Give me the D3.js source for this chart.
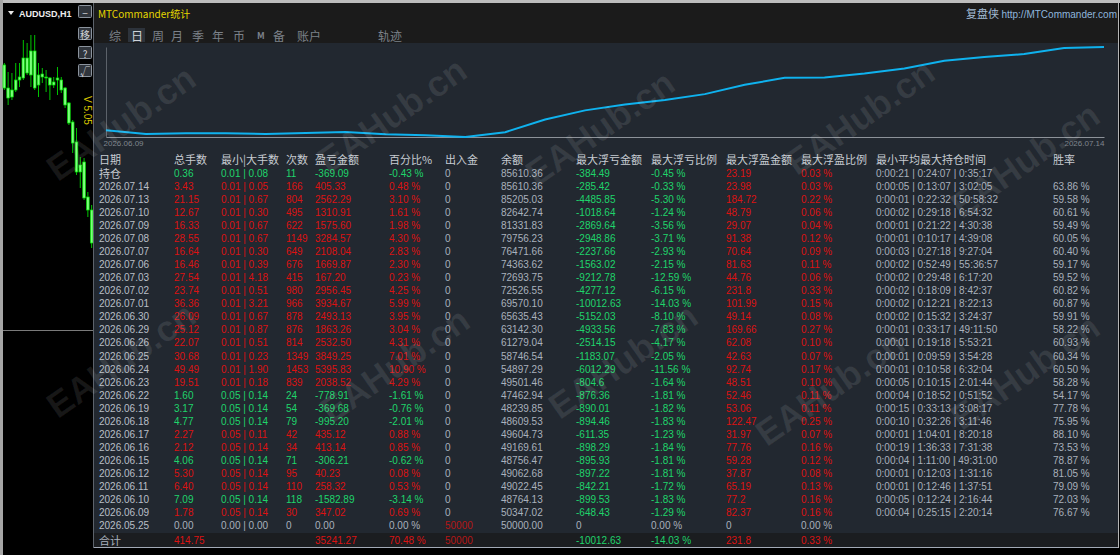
<!DOCTYPE html>
<html>
<head>
<meta charset="utf-8">
<script src="https://cdn.jsdelivr.net/npm/d3@7"></script>
<style>
body { margin: 0; background: #000; overflow: hidden; }
</style>
</head>
<body>
<div id="chart"></div>
<script>
// ---- table data, top row = open positions, then days (newest first) ----
var rowLabels = ["持仓", "2026.07.14", "2026.07.13", "2026.07.10", "2026.07.09", "2026.07.08", "2026.07.07",
  "2026.07.06", "2026.07.03", "2026.07.02", "2026.07.01", "2026.06.30", "2026.06.29", "2026.06.26",
  "2026.06.25", "2026.06.24", "2026.06.23", "2026.06.22", "2026.06.19", "2026.06.18", "2026.06.17",
  "2026.06.16", "2026.06.15", "2026.06.12", "2026.06.11", "2026.06.10", "2026.06.09", "2026.05.25"];
var lots = [0.36, 3.43, 21.15, 12.67, 16.33, 28.55, 16.64, 16.46, 27.54, 23.74, 36.36, 26.09, 25.12, 22.07,
  30.68, 49.49, 19.51, 1.60, 3.17, 4.77, 2.27, 2.12, 4.06, 5.30, 6.40, 7.09, 1.78, 0.00];
var minLot = [0.01, 0.01, 0.01, 0.01, 0.01, 0.01, 0.01, 0.01, 0.01, 0.01, 0.01, 0.01, 0.01, 0.01,
  0.01, 0.01, 0.01, 0.05, 0.05, 0.05, 0.05, 0.05, 0.05, 0.05, 0.05, 0.05, 0.05, 0.00];
var maxLot = [0.08, 0.05, 0.67, 0.30, 0.67, 0.67, 0.30, 0.39, 4.18, 0.51, 3.21, 0.67, 0.87, 0.51,
  0.23, 1.90, 0.18, 0.14, 0.14, 0.14, 0.11, 0.14, 0.14, 0.14, 0.14, 0.14, 0.14, 0.00];
var trades = [11, 166, 804, 495, 622, 1149, 649, 676, 415, 980, 966, 878, 876, 814,
  1349, 1453, 839, 24, 54, 79, 42, 34, 71, 95, 110, 118, 30, 0];
var pnl = [-369.09, 405.33, 2562.29, 1310.91, 1575.60, 3284.57, 2108.04, 1669.87, 167.20, 2956.45, 3934.67,
  2493.13, 1863.26, 2532.50, 3849.25, 5395.83, 2038.52, -778.91, -369.68, -995.20, 435.12, 413.14,
  -306.21, 40.23, 258.32, -1582.89, 347.02, 0.00];
var pnlPct = [-0.43, 0.48, 3.10, 1.61, 1.98, 4.30, 2.83, 2.30, 0.23, 4.25, 5.99, 3.95, 3.04, 4.31,
  7.01, 10.90, 4.29, -1.61, -0.76, -2.01, 0.88, 0.85, -0.62, 0.08, 0.53, -3.14, 0.69, 0.00];
var deposit = [0, 0, 0, 0, 0, 0, 0, 0, 0, 0, 0, 0, 0, 0, 0, 0, 0, 0, 0, 0, 0, 0, 0, 0, 0, 0, 0, 50000];
var balance = [85610.36, 85610.36, 85205.03, 82642.74, 81331.83, 79756.23, 76471.66, 74363.62, 72693.75,
  72526.55, 69570.10, 65635.43, 63142.30, 61279.04, 58746.54, 54897.29, 49501.46, 47462.94, 48239.85,
  48609.53, 49604.73, 49169.61, 48756.47, 49062.68, 49022.45, 48764.13, 50347.02, 50000.00];
var ddAmt = [-384.49, -285.42, -4485.85, -1018.64, -2869.64, -2948.86, -2237.66, -1563.02, -9212.78,
  -4277.12, -10012.63, -5152.03, -4933.56, -2514.15, -1183.07, -6012.29, -804.6, -876.36, -890.01,
  -894.46, -611.35, -898.29, -895.93, -897.22, -842.21, -899.53, -648.43, 0];
var ddPct = [-0.45, -0.33, -5.30, -1.24, -3.56, -3.71, -2.93, -2.15, -12.59, -6.15, -14.03, -8.10, -7.83,
  -4.17, -2.05, -11.56, -1.64, -1.81, -1.82, -1.83, -1.23, -1.84, -1.81, -1.81, -1.72, -1.83, -1.29, 0.00];
var upAmt = [23.19, 23.98, 184.72, 48.79, 29.07, 91.38, 70.64, 81.63, 44.76, 231.8, 101.99, 49.14, 169.66,
  62.08, 42.63, 92.74, 48.51, 52.46, 53.06, 122.47, 31.97, 77.76, 59.28, 37.87, 65.19, 77.2, 82.37, 0];
var upPct = [0.03, 0.03, 0.22, 0.06, 0.04, 0.12, 0.09, 0.11, 0.06, 0.33, 0.15, 0.08, 0.27, 0.10,
  0.07, 0.17, 0.10, 0.11, 0.11, 0.25, 0.07, 0.16, 0.12, 0.08, 0.13, 0.16, 0.16, 0.00];
var holdTime = ["0:00:21 | 0:24:07 | 0:35:17", "0:00:05 | 0:13:07 | 3:02:05", "0:00:01 | 0:22:32 | 50:58:32",
  "0:00:02 | 0:29:18 | 6:54:32", "0:00:01 | 0:21:22 | 4:30:38", "0:00:01 | 0:10:17 | 4:39:08",
  "0:00:03 | 0:27:18 | 9:27:04", "0:00:02 | 0:52:49 | 55:36:57", "0:00:02 | 0:29:48 | 6:17:20",
  "0:00:02 | 0:18:09 | 8:42:37", "0:00:02 | 0:12:21 | 8:22:13", "0:00:02 | 0:15:32 | 3:24:37",
  "0:00:01 | 0:33:17 | 49:11:50", "0:00:01 | 0:19:18 | 5:53:21", "0:00:01 | 0:09:59 | 3:54:28",
  "0:00:01 | 0:10:58 | 6:32:04", "0:00:05 | 0:10:15 | 2:01:44", "0:00:04 | 0:18:52 | 0:51:52",
  "0:00:15 | 0:33:13 | 3:08:17", "0:00:10 | 0:32:26 | 3:11:46", "0:00:01 | 1:04:01 | 8:20:18",
  "0:00:19 | 1:36:33 | 7:31:38", "0:00:04 | 1:11:00 | 49:31:00", "0:00:01 | 0:12:03 | 1:31:16",
  "0:00:01 | 0:12:46 | 1:37:51", "0:00:05 | 0:12:24 | 2:16:44", "0:00:04 | 0:25:15 | 2:20:14", ""];
var winRate = [null, 63.86, 59.58, 60.61, 59.49, 60.05, 60.40, 59.17, 59.52, 60.82, 60.87, 59.91, 58.22,
  60.93, 60.34, 60.50, 58.28, 54.17, 77.78, 75.95, 88.10, 73.53, 78.87, 81.05, 79.09, 72.03, 76.67, null];

// totals row
var totalLots = 414.75, totalPnl = 35241.27, totalPct = 70.48, totalDeposit = 50000;
var totalDd = -10012.63, totalDdPct = -14.03, totalUp = 231.8, totalUpPct = 0.33;

var headers = ["日期", "总手数", "最小|大手数", "次数", "盈亏金额", "百分比%", "出入金", "余额",
  "最大浮亏金额", "最大浮亏比例", "最大浮盈金额", "最大浮盈比例", "最小平均最大持仓时间", "胜率"];
var tabLabels = ["综", "日", "周", "月", "季", "年", "币", "M", "备", "账户", "轨迹"];

// AUDUSD H1 candles (left chart)
var candleOpen  = [0.66375, 0.66260, 0.66250, 0.66250, 0.66300, 0.66310, 0.66335, 0.66325, 0.66445, 0.66275,
  0.66315, 0.66315, 0.66310, 0.66275, 0.66300, 0.66300, 0.66260, 0.66185, 0.66090, 0.65990, 0.65840,
  0.65890, 0.65715, 0.65650];
var candleHigh  = [0.66385, 0.66340, 0.66335, 0.66385, 0.66385, 0.66500, 0.66485, 0.66525, 0.66525, 0.66385,
  0.66360, 0.66350, 0.66315, 0.66315, 0.66365, 0.66315, 0.66265, 0.66190, 0.66100, 0.66060, 0.65915,
  0.65910, 0.65740, 0.65675];
var candleLow   = [0.66250, 0.66175, 0.66200, 0.66240, 0.66265, 0.66300, 0.66325, 0.66265, 0.66250, 0.66215,
  0.66285, 0.66240, 0.66200, 0.66260, 0.66225, 0.66235, 0.66160, 0.66075, 0.65935, 0.65825, 0.65760,
  0.65700, 0.65615, 0.65460];
var candleClose = [0.66260, 0.66210, 0.66215, 0.66300, 0.66315, 0.66410, 0.66410, 0.66445, 0.66260, 0.66325,
  0.66330, 0.66310, 0.66275, 0.66290, 0.66310, 0.66250, 0.66175, 0.66085, 0.65985, 0.65840, 0.65875,
  0.65710, 0.65650, 0.65485];

// ---- colours / fonts ----
var RED = "#dc1212", DARKRED = "#b51616", GREEN = "#1fd46b", GREY = "#a9b1bc", HEAD = "#c7ccd2";
var LATIN = "'Liberation Sans', Arial, sans-serif";
var CJK = "'Noto Sans CJK SC', 'Liberation Sans', sans-serif";

var W = 1120, H = 555;
var svg = d3.select("#chart").append("svg")
    .attr("width", W)
    .attr("height", H)
    .style("font-family", LATIN);

svg.append("rect").attr("width", W).attr("height", H).attr("fill", "#000");
svg.append("rect").attr("width", W).attr("height", 3).attr("fill", "#bdbdbd");
svg.append("rect").attr("width", 3).attr("height", H).attr("fill", "#a6a6a6");

// ---- left MT4 chart ----
var cx = d3.scaleBand().domain(d3.range(candleOpen.length)).range([3, 93]).paddingInner(0.3);
var cy = d3.scaleLinear().domain([0.66500, 0.65460]).range([40, 248]);

var candles = svg.append("g").selectAll("g")
    .data(d3.range(candleOpen.length))
    .enter().append("g");
candles.append("line")
    .attr("x1", function(i) { return cx(i) + cx.bandwidth() / 2; })
    .attr("x2", function(i) { return cx(i) + cx.bandwidth() / 2; })
    .attr("y1", function(i) { return cy(candleHigh[i]); })
    .attr("y2", function(i) { return cy(candleLow[i]); })
    .attr("stroke", "#00c400");
candles.append("rect")
    .attr("x", function(i) { return cx(i); })
    .attr("width", cx.bandwidth())
    .attr("y", function(i) { return cy(Math.max(candleOpen[i], candleClose[i])); })
    .attr("height", function(i) { return Math.max(1, Math.abs(cy(candleOpen[i]) - cy(candleClose[i]))); })
    .attr("fill", "#7dff7d")
    .attr("stroke", "#00e000")
    .attr("stroke-width", 0.7);

svg.append("line").attr("x1", 3).attr("x2", 93).attr("y1", 330.5).attr("y2", 330.5).attr("stroke", "#7a7a7a");

svg.append("path").attr("d", "M8,11 L14,11 L11,15 Z").attr("fill", "#e8e8e8");
svg.append("text").attr("x", 19).attr("y", 17).text("AUDUSD,H1")
    .attr("fill", "#eeeeee").style("font-size", "9px").style("font-weight", "bold");

var buttons = [{t: "−", y: 5}, {t: "移", y: 27}, {t: "?", y: 46}, {t: "√", y: 64}];
var btn = svg.append("g").selectAll("g").data(buttons).enter().append("g");
btn.append("rect").attr("x", 78.5).attr("y", function(d) { return d.y + 0.5; })
    .attr("width", 13).attr("height", 12).attr("rx", 1)
    .attr("fill", "#30353c").attr("stroke", "#8b939d");
btn.append("text").attr("x", 85).attr("y", function(d) { return d.y + 7; })
    .attr("text-anchor", "middle").attr("dominant-baseline", "central")
    .attr("fill", "#d0d4d8").style("font-size", "10px").style("font-family", CJK)
    .text(function(d) { return d.t; });

svg.append("text").attr("transform", "translate(84,96) rotate(90)")
    .text("V 5.05").attr("fill", "#d6c400").style("font-size", "10px");

// ---- statistics panel ----
var panel = svg.append("g");
panel.append("rect").attr("x", 94).attr("y", 3).attr("width", 1024).attr("height", 545).attr("fill", "#222830");
panel.append("rect").attr("x", 94).attr("y", 3).attr("width", 1024).attr("height", 40).attr("fill", "#1b1b1b");
panel.append("rect").attr("x", 94).attr("y", 533).attr("width", 1024).attr("height", 14).attr("fill", "#1b1d20");
panel.append("line").attr("x1", 94).attr("x2", 1118).attr("y1", 547.5).attr("y2", 547.5).attr("stroke", "#a3aab6");
panel.append("line").attr("x1", 93.5).attr("x2", 93.5).attr("y1", 3).attr("y2", 548).attr("stroke", "#5d636b");
panel.append("line").attr("x1", 1118.5).attr("x2", 1118.5).attr("y1", 3).attr("y2", 548).attr("stroke", "#b5b5b5");

panel.append("text").attr("x", 98).attr("y", 18)
    .attr("fill", "#e6d600").style("font-size", "10px").style("font-family", CJK)
    .text("MTCommander统计");
var site = panel.append("text").attr("x", 1117).attr("y", 18).attr("text-anchor", "end");
site.append("tspan").text("复盘侠 ").attr("fill", "#a4bdd6").style("font-family", CJK).style("font-size", "11px");
site.append("tspan").text("http://MTCommander.com").attr("fill", "#8fb6dc").style("font-size", "10px");

// tabs
var tabX = [109, 131, 152, 171, 192, 212, 233, 257, 273, 297, 378];
panel.append("rect").attr("x", 128).attr("y", 28).attr("width", 17).attr("height", 14).attr("fill", "#2d333b");
panel.selectAll(".tab").data(tabLabels).enter().append("text")
    .attr("class", "tab")
    .attr("x", function(d, i) { return tabX[i]; })
    .attr("y", 35)
    .attr("dominant-baseline", "central")
    .attr("fill", function(d) { return d === "日" ? "#cfd3d8" : "#7b8189"; })
    .style("font-family", CJK)
    .style("font-size", function(d) { return d === "M" ? "9px" : "12px"; })
    .style("font-weight", function(d) { return d === "M" ? "bold" : "normal"; })
    .text(function(d) { return d; });

// equity curve
var eqDates = rowLabels.slice(1, 27).reverse();
var eqBal = balance.slice(1, 27).reverse();
var ex = d3.scalePoint().domain(eqDates).range([106, 1104]);
var ey = d3.scaleLinear().domain([d3.min(eqBal), d3.max(eqBal)]).range([137, 47]);

var yAxis = panel.append("g").attr("transform", "translate(106,0)")
    .call(d3.axisLeft(ey).tickValues([]).tickSizeOuter(0));
yAxis.select(".domain").attr("stroke", "#5c626a");

var xAxis = panel.append("g").attr("transform", "translate(0,137)")
    .call(d3.axisBottom(ex).tickValues([eqDates[0], eqDates[eqDates.length - 1]])
      .tickSize(0).tickSizeOuter(0).tickPadding(3));
xAxis.select(".domain").attr("stroke", "#8d9299");
xAxis.selectAll("text")
    .attr("fill", "#80868e")
    .style("font-size", "8px")
    .style("font-family", LATIN)
    .attr("text-anchor", function(d, i) { return i === 0 ? "start" : "end"; })
    .attr("dx", function(d, i) { return i === 0 ? -3 : 0; });

panel.append("path")
    .datum(eqDates)
    .attr("fill", "none")
    .attr("stroke", "#0fb2ee")
    .attr("stroke-width", 2)
    .attr("d", d3.line()
      .x(function(d) { return ex(d); })
      .y(function(d, i) { return ey(eqBal[i]); }));

// table
var colX = [99, 174, 221, 286, 315, 389, 445, 501, 576, 651, 726, 801, 876, 1053];
var ry = d3.scaleLinear().domain([0, 28]).range([173, 539]);

panel.selectAll(".head").data(headers).enter().append("text")
    .attr("class", "head")
    .attr("x", function(d, i) { return colX[i]; })
    .attr("y", 159)
    .attr("dominant-baseline", "central")
    .attr("fill", HEAD)
    .style("font-family", CJK)
    .style("font-size", "11px")
    .text(function(d) { return d; });

function signCol(i) { return pnl[i] > 0 ? RED : (pnl[i] < 0 ? GREEN : GREY); }
function pct(v) { return v.toFixed(2) + " %"; }

var columns = [
  function(i) { return [rowLabels[i], i === 0 ? HEAD : "#b9bfc7"]; },
  function(i) { return [lots[i].toFixed(2), signCol(i)]; },
  function(i) { return [minLot[i].toFixed(2) + " | " + maxLot[i].toFixed(2), signCol(i)]; },
  function(i) { return [String(trades[i]), signCol(i)]; },
  function(i) { return [pnl[i].toFixed(2), signCol(i)]; },
  function(i) { return [pct(pnlPct[i]), signCol(i)]; },
  function(i) { return [String(deposit[i]), deposit[i] > 0 ? DARKRED : GREY]; },
  function(i) { return [balance[i].toFixed(2), GREY]; },
  function(i) { return [String(ddAmt[i]), ddAmt[i] < 0 ? GREEN : GREY]; },
  function(i) { return [pct(ddPct[i]), ddPct[i] < 0 ? GREEN : GREY]; },
  function(i) { return [String(upAmt[i]), upAmt[i] > 0 ? RED : GREY]; },
  function(i) { return [pct(upPct[i]), upPct[i] > 0 ? RED : GREY]; },
  function(i) { return [holdTime[i], GREY]; },
  function(i) { return [winRate[i] === null ? "" : pct(winRate[i]), GREY]; }
];

var rowIdx = d3.range(rowLabels.length);
columns.forEach(function(col, c) {
  panel.append("g").selectAll("text").data(rowIdx).enter().append("text")
      .attr("x", colX[c])
      .attr("y", function(i) { return ry(i); })
      .attr("dominant-baseline", "central")
      .attr("fill", function(i) { return col(i)[1]; })
      .style("font-size", function(i) { return /[\u4e00-\u9fff]/.test(col(i)[0]) ? "11px" : "10px"; })
      .style("font-family", function(i) { return /[\u4e00-\u9fff]/.test(col(i)[0]) ? CJK : LATIN; })
      .text(function(i) { return col(i)[0]; });
});

// totals
var totals = [
  {c: 0, t: "合计", f: GREY},
  {c: 1, t: totalLots.toFixed(2), f: RED},
  {c: 4, t: totalPnl.toFixed(2), f: RED},
  {c: 5, t: pct(totalPct), f: RED},
  {c: 6, t: String(totalDeposit), f: DARKRED},
  {c: 8, t: String(totalDd), f: GREEN},
  {c: 9, t: pct(totalDdPct), f: GREEN},
  {c: 10, t: String(totalUp), f: RED},
  {c: 11, t: pct(totalUpPct), f: RED}
];
panel.append("g").selectAll("text").data(totals).enter().append("text")
    .attr("x", function(d) { return colX[d.c]; })
    .attr("y", ry(28) + 1)
    .attr("dominant-baseline", "central")
    .attr("fill", function(d) { return d.f; })
    .style("font-size", function(d) { return d.c === 0 ? "11px" : "10px"; })
    .style("font-family", function(d) { return d.c === 0 ? CJK : LATIN; })
    .text(function(d) { return d.t; });

// watermark
var marks = [[121, 123], [392, 115], [600, 128], [860, 117], [1025, 160],
  [121, 360], [395, 365], [623, 361], [830, 388], [1025, 372]];
svg.append("g").selectAll("text").data(marks).enter().append("text")
    .attr("transform", function(d) { return "translate(" + d[0] + "," + d[1] + ") rotate(-35)"; })
    .attr("text-anchor", "middle")
    .attr("dominant-baseline", "central")
    .attr("fill", "#ffffff")
    .attr("fill-opacity", 0.09)
    .style("font-size", "36px")
    .style("font-weight", "bold")
    .text("EAHub.cn");
</script>
</body>
</html>
